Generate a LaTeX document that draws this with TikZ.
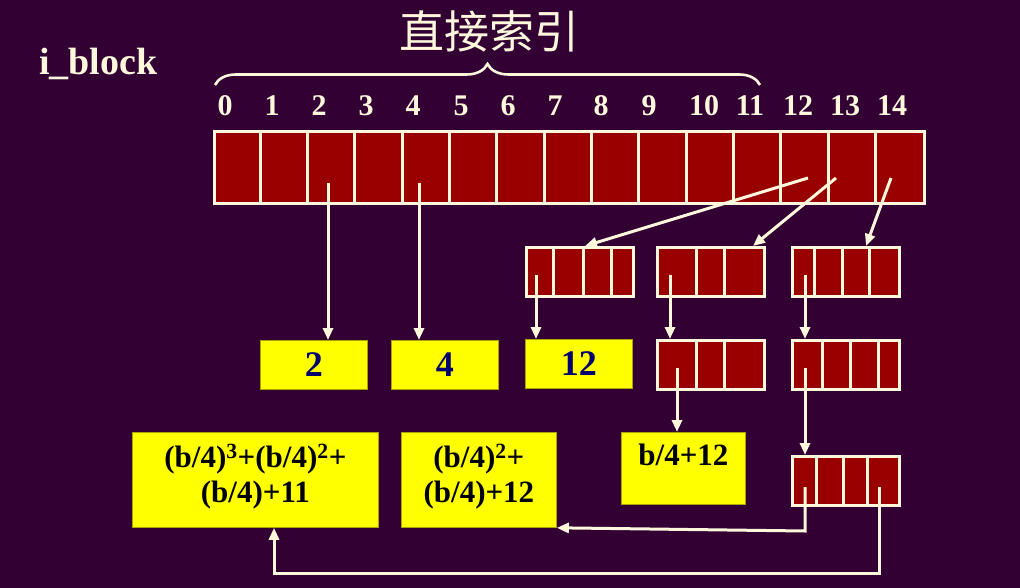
\documentclass[tikz,border=0pt]{standalone}
\usepackage{fontspec}
\setmainfont{Liberation Serif}
\newfontfamily\cjk{Noto Sans CJK SC}
\usetikzlibrary{arrows.meta,decorations.pathreplacing,calc}
\definecolor{bg}{RGB}{51,0,51}
\definecolor{cellred}{RGB}{153,0,0}
\definecolor{cream}{RGB}{255,248,220}
\definecolor{navy}{RGB}{0,0,110}
\definecolor{ylw}{RGB}{255,255,0}
\begin{document}
\begin{tikzpicture}[x=1pt,y=-1pt,
  arrbox/.style={rectangle, draw=cream, line width=3pt, fill=cellred, inner sep=0pt, anchor=north west},
  ybox/.style={rectangle, draw=ylw!65!black, line width=0.8pt, fill=ylw, inner sep=0pt, anchor=north west},
  divider/.style={draw=cream, line width=3pt},
  link/.style={draw=cream, line width=3pt, -{Triangle[length=12pt,width=10pt]}},
  idx/.style={text=cream, font=\bfseries\fontsize{30}{30}\selectfont, inner sep=0pt},
  num/.style={text=navy, font=\bfseries\fontsize{36}{36}\selectfont, inner sep=0pt},
  frm/.style={text=black, font=\bfseries\fontsize{31}{35}\selectfont, align=center, inner sep=0pt, anchor=north}
]
\fill[bg] (0,0) rectangle (1020,588);
\useasboundingbox (0,0) rectangle (1020,588);

% title and label
\node[text=cream, font=\cjk\fontsize{45}{45}\selectfont, inner sep=0pt] (title) at (489,31) {直接索引};
\node[text=cream, font=\bfseries\fontsize{38}{38}\selectfont, inner sep=0pt, anchor=base west] (iblock) at (39,75) {i\_block};

% brace
\coordinate (brL) at (215,85);
\coordinate (brR) at (760,85);
\draw[cream, line width=2.6pt, decorate, decoration={brace, amplitude=21pt}] (brL) -- (brR);

% index labels
\foreach \n/\x in {0/225,1/272,2/319,3/366,4/413,5/461,6/508,7/555,8/601,9/649,10/704,11/750,12/798,13/845,14/892}
  \node[idx] (l\n) at (\x,106) {\n};

% main array
\node[arrbox, minimum width=710pt, minimum height=72pt] (main) at (213,130) {};
\foreach \k in {1,...,14}
  \draw[divider] ($(main.north west)+(47.33*\k,0)$) -- ($(main.south west)+(47.33*\k,0)$);

% second-level arrays
\node[arrbox, minimum width=107pt, minimum height=49pt] (A1) at (525,246) {};
\foreach \x in {553,583,611} \draw[divider] (\x,246) -- (\x,295);
\node[arrbox, minimum width=107pt, minimum height=49pt] (B1) at (656,246) {};
\foreach \x in {696,724} \draw[divider] (\x,246) -- (\x,295);
\node[arrbox, minimum width=107pt, minimum height=49pt] (C1) at (791,246) {};
\foreach \x in {814,842,869} \draw[divider] (\x,246) -- (\x,295);

% third row
\node[ybox, minimum width=107pt, minimum height=49pt] (Y2) at (260,340) {};
\node[num] at (Y2.center) {2};
\node[ybox, minimum width=107pt, minimum height=49pt] (Y4) at (391,340) {};
\node[num] at (Y4.center) {4};
\node[ybox, minimum width=107pt, minimum height=49pt] (Y12) at (525,339) {};
\node[num] at (Y12.center) {12};
\node[arrbox, minimum width=107pt, minimum height=49pt] (B2) at (656,339) {};
\foreach \x in {696,724} \draw[divider] (\x,339) -- (\x,388);
\node[arrbox, minimum width=107pt, minimum height=49pt] (C2) at (791,339) {};
\foreach \x in {822,850,878} \draw[divider] (\x,339) -- (\x,388);

% bottom row
\node[ybox, minimum width=246pt, minimum height=95pt] (F3) at (132,432) {};
\node[frm] at ($(F3.north)+(0,12)$) {(b/4)\textsuperscript{3}+(b/4)\textsuperscript{2}+\\(b/4)+11};
\node[ybox, minimum width=155pt, minimum height=95pt] (F2) at (401,432) {};
\node[frm] at ($(F2.north)+(0,12)$) {(b/4)\textsuperscript{2}+\\(b/4)+12};
\node[ybox, minimum width=124pt, minimum height=72pt] (F1) at (621,432) {};
\node[frm] at ($(F1.north)+(0,12)$) {b/4+12};
\node[arrbox, minimum width=107pt, minimum height=49pt] (C3) at (791,455) {};
\foreach \x in {816,843,867} \draw[divider] (\x,455) -- (\x,504);

% connectors from main array
\coordinate (s2) at (328,183);
\coordinate (s4) at (419,183);
\coordinate (s12) at (808,178);
\coordinate (s13) at (836,178);
\coordinate (s14) at (891,178);
\draw[link] (s2) -- (s2 |- Y2.north);
\draw[link] (s4) -- (s4 |- Y4.north);
\draw[link] (s12) -- ($(A1.north west)+(60,0)$);
\draw[link] (s13) -- ($(B1.north west)+(97,0)$);
\draw[link] (s14) -- ($(C1.north west)+(75,0)$);

% second level to third
\coordinate (a1) at (536,275);
\coordinate (b1) at (670,275);
\coordinate (c1) at (805,275);
\draw[link] (a1) -- (a1 |- Y12.north);
\draw[link] (b1) -- (b1 |- B2.north);
\draw[link] (c1) -- (c1 |- C2.north);

% third to bottom
\coordinate (b2) at (677,368);
\coordinate (c2) at (805,368);
\draw[link] (b2) -- (b2 |- F1.north);
\draw[link] (c2) -- (c2 |- C3.north);

% back connectors
\coordinate (c3a) at (805,487);
\coordinate (c3b) at (879,487);
\coordinate (k1) at (805,531);
\coordinate (k2) at (879,573);
\coordinate (k3) at (274,573);
\draw[link] (c3a) -- (k1) -- (F2.south east);
\draw[link] (c3b) -- (k2) -- (k3) -- (k3 |- F3.south);
\end{tikzpicture}
\end{document}
